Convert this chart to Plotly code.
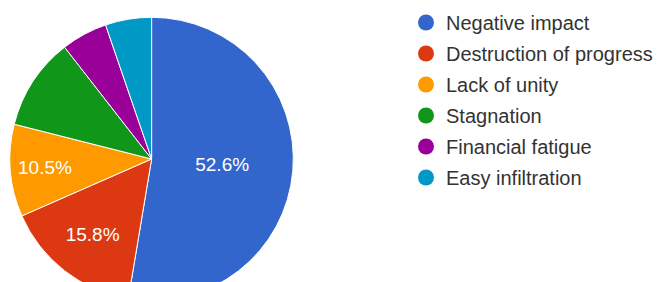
import plotly.graph_objects as go

labels = ["Negative impact", "Destruction of progress", "Lack of unity",
          "Stagnation", "Financial fatigue", "Easy infiltration"]
counts = [10, 3, 2, 2, 1, 1]
colors = ["#3366cc", "#dc3912", "#ff9900", "#109618", "#990099", "#0099c6"]
show_text = [True, True, True, False, False, False]

W, H = 658, 310
T, B = 1, 0
ph = H - T - B

# pie box in page pixels (left, right, top, bottom)
PL, PR, PT, PB = 10, 296, 16, 302

fig = go.Figure()
fig.add_trace(go.Pie(
    labels=labels, values=counts, sort=False, direction="clockwise", rotation=0,
    marker=dict(colors=colors, line=dict(color="white", width=1)),
    texttemplate=["%{percent:.1%}" if s else "" for s in show_text],
    textposition="inside", insidetextorientation="horizontal",
    textfont=dict(color="white", size=19, family="Arial, Liberation Sans"),
    showlegend=False, hoverinfo="label+percent",
    domain=dict(x=[PL / W, PR / W], y=[(H - B - PB) / ph, (H - B - PT) / ph]),
))

for i, (lab, col) in enumerate(zip(labels, colors)):
    fig.add_trace(go.Scatter(
        x=[None], y=[None], mode="markers", name=lab, legendgroup=f"g{i}",
        marker=dict(symbol="circle", size=18, color=col),
        showlegend=True,
    ))

fig.update_layout(
    width=W, height=H,
    margin=dict(l=0, r=0, t=T, b=B),
    paper_bgcolor="white", plot_bgcolor="white",
    xaxis=dict(visible=False), yaxis=dict(visible=False),
    legend=dict(x=410 / W, xanchor="left", y=1 - 2 / ph, yanchor="top",
                font=dict(size=20, color="#333333", family="Arial, Liberation Sans"),
                tracegroupgap=2, bgcolor="rgba(0,0,0,0)", maxheight=290),
)

fig.write_html(
    "out.html",
    config={"displayModeBar": False},
    post_script="document.body.style.margin='0';document.body.style.overflow='hidden';",
)
